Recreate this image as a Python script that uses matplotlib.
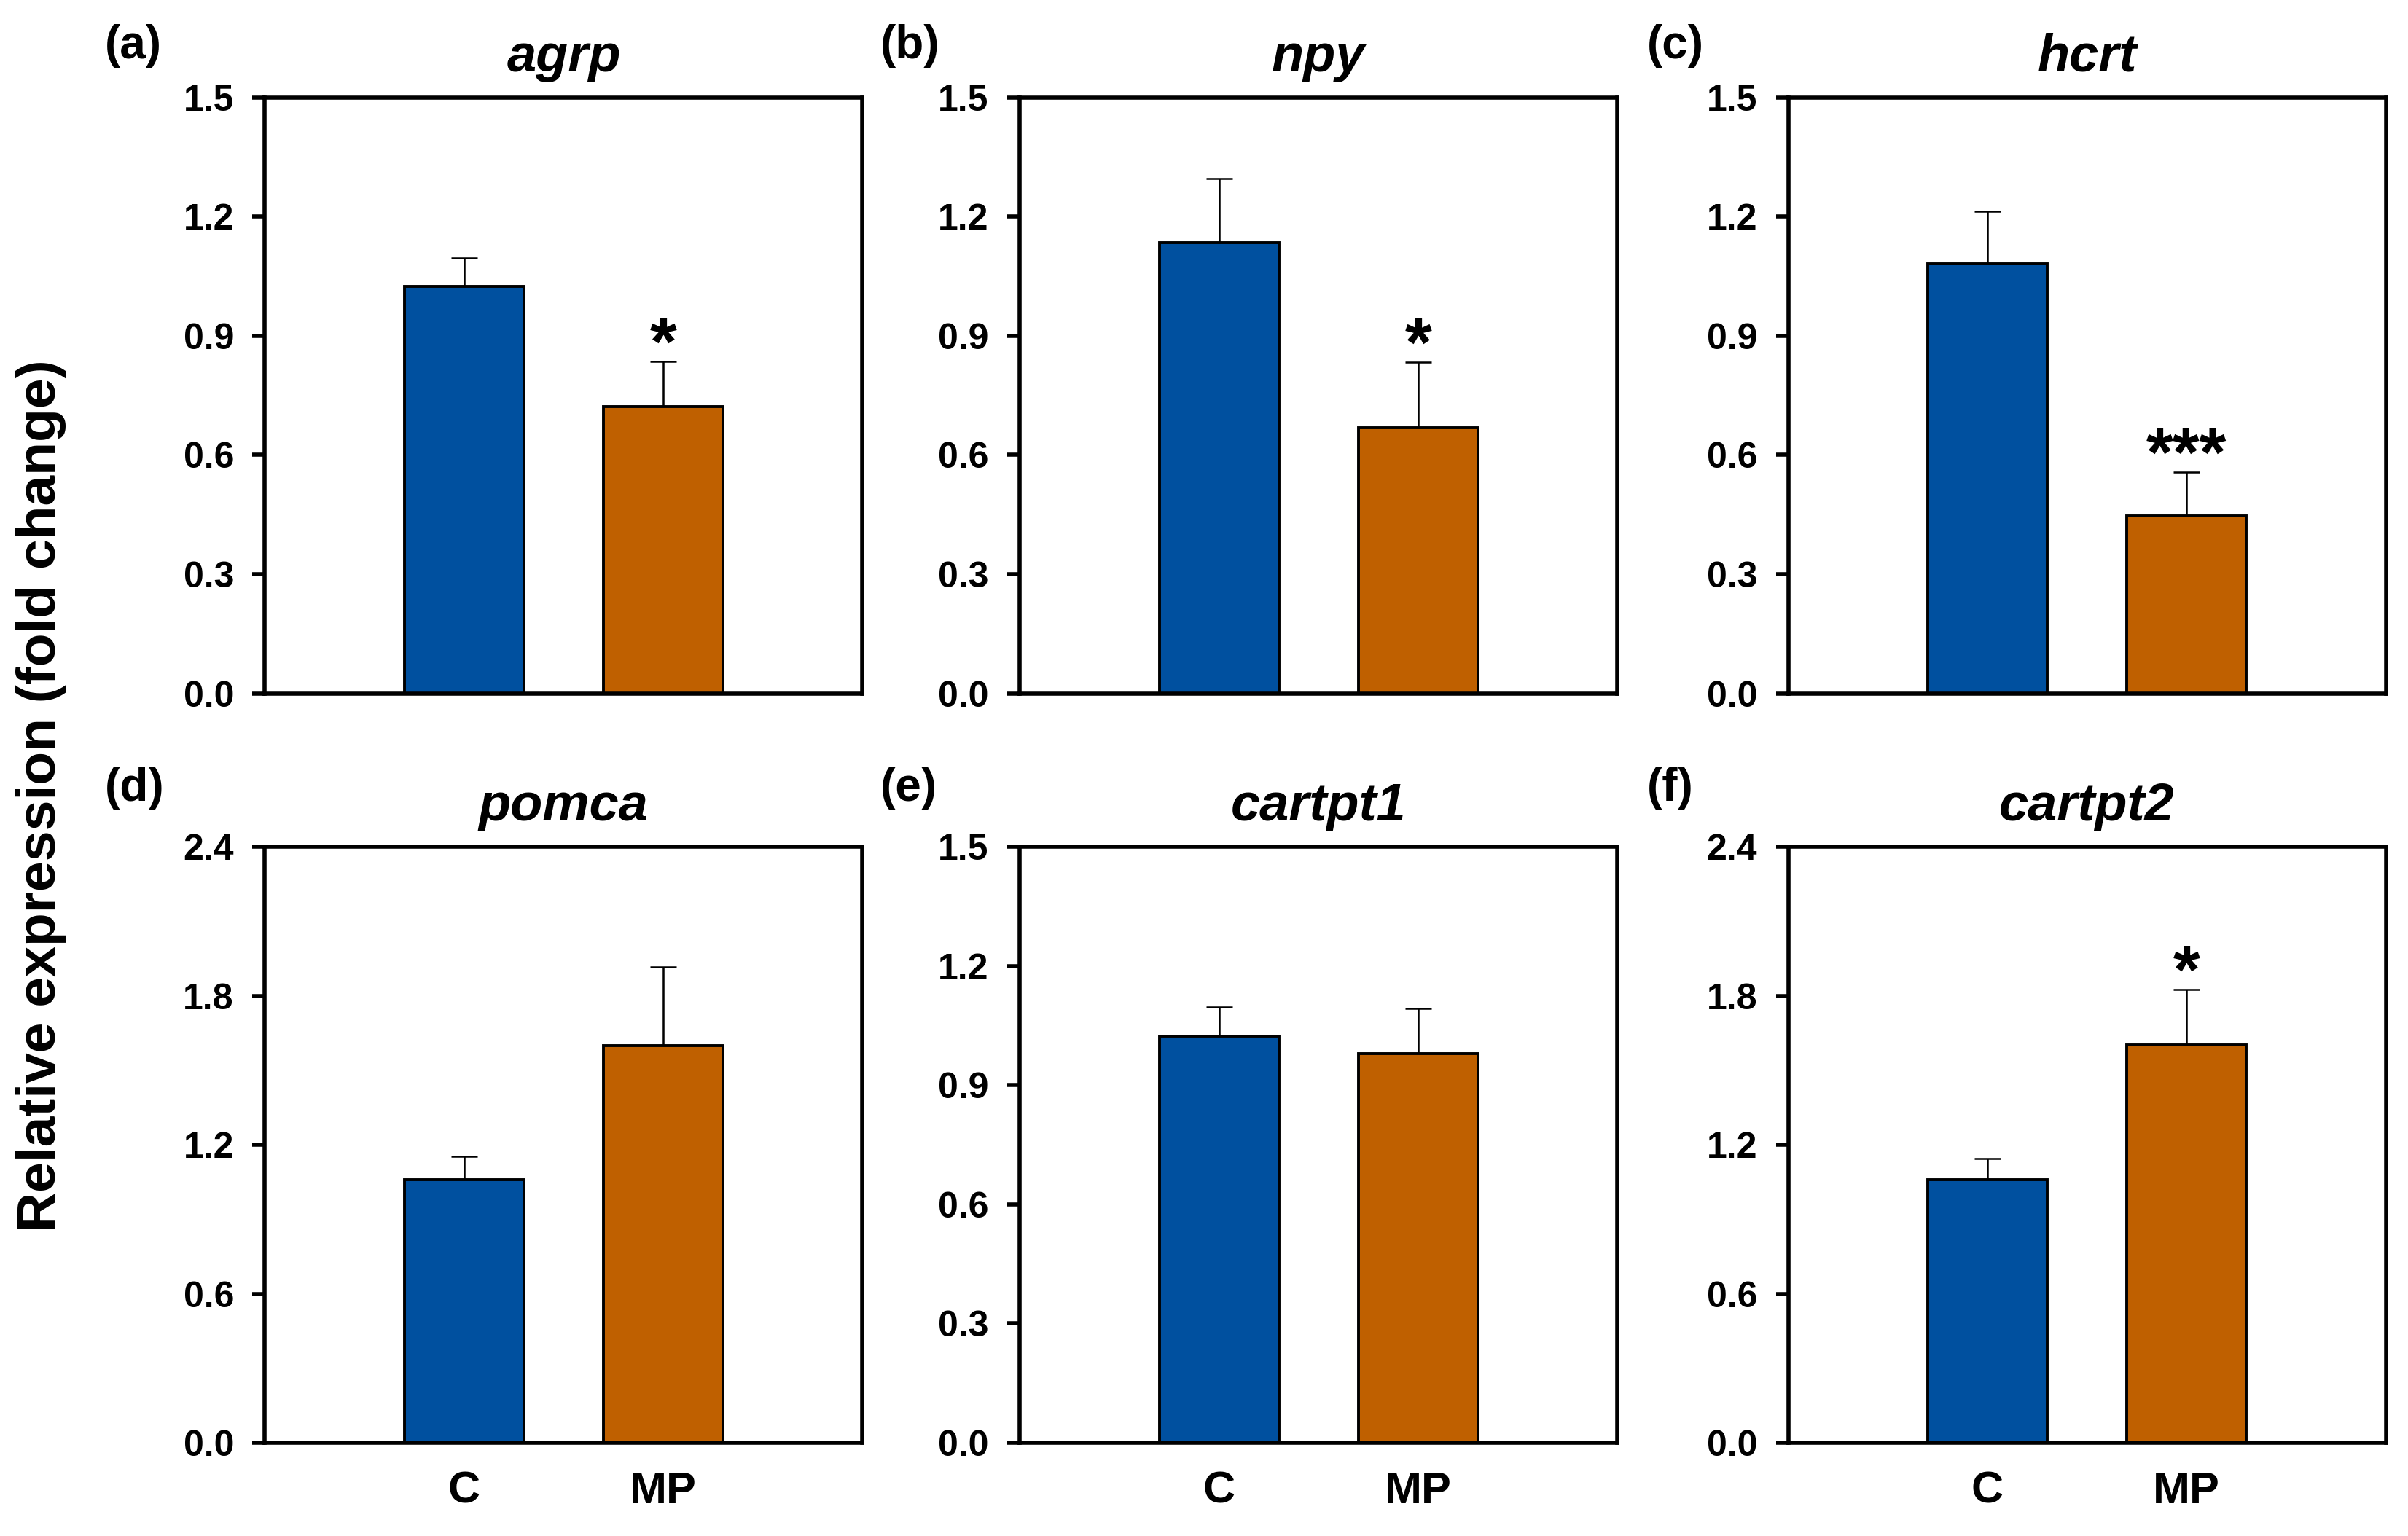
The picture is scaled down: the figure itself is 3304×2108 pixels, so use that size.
import matplotlib
matplotlib.use('Agg')
import matplotlib.pyplot as plt
import numpy as np

plt.rcParams['font.family'] = ['Liberation Sans', 'DejaVu Sans']
plt.rcParams['font.weight'] = 'bold'

genes = ['agrp', 'npy', 'hcrt', 'pomca', 'cartpt1', 'cartpt2']
panel_tags = ['(a)', '(b)', '(c)', '(d)', '(e)', '(f)']
groups = ['C', 'MP']
control_mean = [1.024, 1.134, 1.082, 1.060, 1.024, 1.058]
control_sem = [0.071, 0.161, 0.131, 0.093, 0.073, 0.087]
mp_mean = [0.721, 0.669, 0.446, 1.599, 0.980, 1.601]
mp_sem = [0.114, 0.164, 0.110, 0.318, 0.113, 0.224]
stars = ['*', '*', '***', '', '', '*']
y_max = [1.5, 1.5, 1.5, 2.4, 1.5, 2.4]
y_step = [0.3, 0.3, 0.3, 0.6, 0.3, 0.6]

bar_colors = ['#00509F', '#BF6000']

fig = plt.figure(figsize=(16.52, 10.54), dpi=200)

lefts = [0.110, 0.4235, 0.7426]
bottoms = [0.5486, 0.0607]
w, h = 0.2482, 0.388
tag_x = [0.0436, 0.3656, 0.684]
tag_y = [0.962, 0.4787]

x = np.arange(len(groups))

for i, gene in enumerate(genes):
    row, col = divmod(i, 3)
    ax = fig.add_axes([lefts[col], bottoms[row], w, h])
    means = [control_mean[i], mp_mean[i]]
    sems = [control_sem[i], mp_sem[i]]

    ax.errorbar(x, means, yerr=[np.zeros(2), sems], fmt='none', ecolor='black',
                elinewidth=0.9, capsize=6.5, capthick=0.9, zorder=1)
    ax.bar(x, means, width=0.6, color=bar_colors, edgecolor='black',
           linewidth=1.4, zorder=2)

    if stars[i]:
        ax.annotate(stars[i], xy=(1, means[1] + sems[1]), xytext=(0, -1.5),
                    textcoords='offset points', ha='center', va='baseline',
                    fontsize=34, fontweight='bold')

    ticks = np.arange(0, y_max[i] + 1e-9, y_step[i])
    ax.set_xlim(-1, 2)
    ax.set_ylim(0, y_max[i])
    ax.set_yticks(ticks)
    ax.set_yticklabels([f'{v:.1f}' for v in ticks])
    ax.tick_params(axis='y', direction='out', length=6.3, width=2, pad=9,
                   labelsize=18)

    if row == 1:
        ax.set_xticks(x)
        ax.set_xticklabels(groups, fontsize=22, fontweight='bold')
        ax.tick_params(axis='x', length=0, pad=14)
    else:
        ax.set_xticks([])

    for s in ax.spines.values():
        s.set_linewidth(2)

    ax.set_title(gene, fontsize=26, fontweight='bold', style='italic', pad=13)
    fig.text(tag_x[col], tag_y[row], panel_tags[i], fontsize=23,
             fontweight='bold', va='baseline')

fig.text(0.017, 0.482, 'Relative expression (fold change)', rotation=90,
         ha='center', va='center', fontsize=27, fontweight='bold')

fig.savefig('out.png', dpi=200)
